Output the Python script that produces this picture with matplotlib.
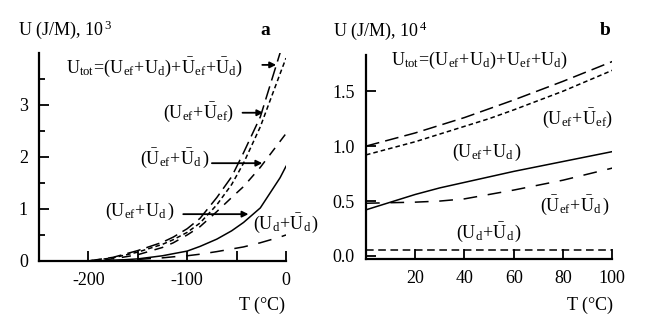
import numpy as np
import matplotlib.pyplot as plt
import matplotlib as mpl
from matplotlib.ticker import FixedLocator

# panel a : T from -250 to 0 C, U in 10^3 J/M
Ta = [-200, -175, -150, -125, -114, -100, -87, -70, -55, -43, -26, -6, 0]
a_tot = [0.0, 0.07, 0.2, 0.36, 0.46, 0.62, 0.82, 1.22, 1.62, 2.08, 2.77, 4.0, 4.4]
a_ef_efb = [0.0, 0.06, 0.17, 0.32, 0.41, 0.55, 0.73, 1.08, 1.47, 1.88, 2.58, 3.6, 3.9]
a_efb_d = [0.0, 0.04, 0.12, 0.26, 0.35, 0.5, 0.66, 0.95, 1.22, 1.43, 1.8, 2.3, 2.45]
a_ef_d = [0.0, 0.01, 0.04, 0.1, 0.14, 0.19, 0.28, 0.42, 0.58, 0.74, 1.02, 1.6, 1.82]
a_d_db = [0.0, 0.01, 0.03, 0.06, 0.08, 0.1, 0.13, 0.18, 0.23, 0.27, 0.35, 0.46, 0.5]

# panel b : T from 0 to 100 C, U in 10^4 J/M
Tb = [0, 10, 20, 30, 40, 50, 60, 80, 100]
b_tot = [1.0, 1.06, 1.12, 1.19, 1.26, 1.34, 1.42, 1.59, 1.77]
b_ef_efb = [0.92, 0.98, 1.04, 1.11, 1.18, 1.25, 1.33, 1.5, 1.69]
b_ef_d = [0.42, 0.49, 0.56, 0.62, 0.67, 0.72, 0.77, 0.86, 0.95]
b_efb_d = [0.48, 0.485, 0.49, 0.5, 0.52, 0.56, 0.6, 0.69, 0.8]
b_d_db = [0.05, 0.05, 0.05, 0.05, 0.05, 0.05, 0.05, 0.05, 0.05]

mpl.rcParams.update({'font.family': 'Liberation Serif',
                     'mathtext.fontset': 'custom',
                     'mathtext.rm': 'Liberation Serif',
                     'mathtext.it': 'Liberation Serif:italic',
                     'font.size': 13})

fig = plt.figure(figsize=(6.5, 3.35), dpi=100)
axa = fig.add_axes([0.060, 0.221, 0.380, 0.621])
axb = fig.add_axes([0.563, 0.227, 0.379, 0.609])

lw = 1.1
long_dash = (0, (9, 4))
short_dash = (0, (3, 2))
med_dash = (0, (6, 5))
wide_dash = (0, (9, 7))

# ---- panel a
axa.plot(Ta, a_tot, color='k', lw=lw, linestyle=long_dash)
axa.plot(Ta, a_ef_efb, color='k', lw=lw, linestyle=short_dash)
axa.plot(Ta, a_efb_d, color='k', lw=lw, linestyle=med_dash)
axa.plot(Ta, a_ef_d, color='k', lw=lw)
axa.plot(Ta, a_d_db, color='k', lw=lw, linestyle=wide_dash)

axa.set_xlim(-250, 0)
axa.set_ylim(0, 4)
axa.set_xticks([-200, -100, 0])
axa.set_xticklabels(['-200', '-100', '0'])
axa.xaxis.set_minor_locator(FixedLocator([-150, -50]))
axa.set_yticks([0, 1, 2, 3])
axa.yaxis.set_minor_locator(FixedLocator([0.5, 1.5, 2.5, 3.5]))

# ---- panel b
axb.plot(Tb, b_tot, color='k', lw=lw, linestyle=long_dash)
axb.plot(Tb, b_ef_efb, color='k', lw=lw, linestyle=short_dash)
axb.plot(Tb, b_ef_d, color='k', lw=lw)
axb.plot(Tb, b_efb_d, color='k', lw=lw, linestyle=wide_dash)
axb.plot(Tb, b_d_db, color='k', lw=lw, linestyle=(0, (5, 3)))

axb.set_xlim(0, 100)
axb.set_ylim(-0.027, 1.83)
axb.set_xticks([20, 40, 60, 80, 100])
axb.set_yticks([0.0, 0.5, 1.0, 1.5])
axb.set_yticklabels(['0.0', '0.5', '1.0', '1.5'])

for ax in (axa, axb):
    for s in ('top', 'right'):
        ax.spines[s].set_visible(False)
    for s in ('left', 'bottom'):
        ax.spines[s].set_linewidth(1.6)
    ax.tick_params(which='major', direction='in', length=7, width=1.3, pad=8)
    ax.tick_params(which='minor', direction='in', length=7, width=1.3)
axa.tick_params(axis='y', which='minor', length=4.5)

arr = dict(arrowstyle='-|>', color='k', lw=1.3, mutation_scale=9, shrinkA=0, shrinkB=0)

# labels panel a
axa.text(-271, 4.44, r'U (J/M), 10$^{\,3}$', ha='left', va='center', clip_on=False)
axa.text(-21, 4.44, 'a', ha='center', va='center', fontweight='bold', fontsize=14)
axa.text(-133, 3.73, r'$\mathrm{U_{tot}\!=\!(U_{ef}\!+\!U_d)\!+\!\bar{U}_{ef}\!+\!\bar{U}_d)}$',
         ha='center', va='center')
axa.annotate('', xy=(-10, 3.77), xytext=(-24, 3.77), arrowprops=arr)
axa.text(-89, 2.85, r'$\mathrm{(U_{ef}\!+\!\bar{U}_{ef})}$', ha='center', va='center')
axa.annotate('', xy=(-23, 2.85), xytext=(-44, 2.85), arrowprops=arr)
axa.text(-112, 1.98, r'$\mathrm{(\bar{U}_{ef}\!+\!\bar{U}_d\,)}$', ha='center', va='center')
axa.annotate('', xy=(-24, 1.88), xytext=(-75, 1.88), arrowprops=arr)
axa.text(-148, 0.96, r'$\mathrm{(U_{ef}\!+\!U_d\,)}$', ha='center', va='center')
axa.annotate('', xy=(-38, 0.9), xytext=(-104, 0.9), arrowprops=arr)
axa.text(0, 0.73, r'$\mathrm{(U_d\!+\!\bar{U}_d\,)}$', ha='center', va='center', clip_on=False)
axa.text(-24, -0.85, r'T ($\degree$C)', ha='center', va='center')

# labels panel b
axb.text(-13.4, 2.05, r'U (J/M), 10$^{\,4}$', ha='left', va='center')
axb.text(97, 2.05, 'b', ha='center', va='center', fontweight='bold', fontsize=14)
axb.text(46, 1.78, r'$\mathrm{U_{tot}\!=\!(U_{ef}\!+\!U_d)\!+\!U_{ef}\!+\!U_d)}$', ha='center', va='center')
axb.text(86, 1.25, r'$\mathrm{(U_{ef}\!+\!\bar{U}_{ef})}$', ha='center', va='center')
axb.text(49, 0.94, r'$\mathrm{(U_{ef}\!+\!U_d\,)}$', ha='center', va='center')
axb.text(85, 0.46, r'$\mathrm{(\bar{U}_{ef}\!+\!\bar{U}_d\,)}$', ha='center', va='center')
axb.text(50, 0.21, r'$\mathrm{(U_d\!+\!\bar{U}_d\,)}$', ha='center', va='center')
axb.text(91, -0.45, r'T ($\degree$C)', ha='center', va='center')

fig.savefig('out.png', dpi=100)
